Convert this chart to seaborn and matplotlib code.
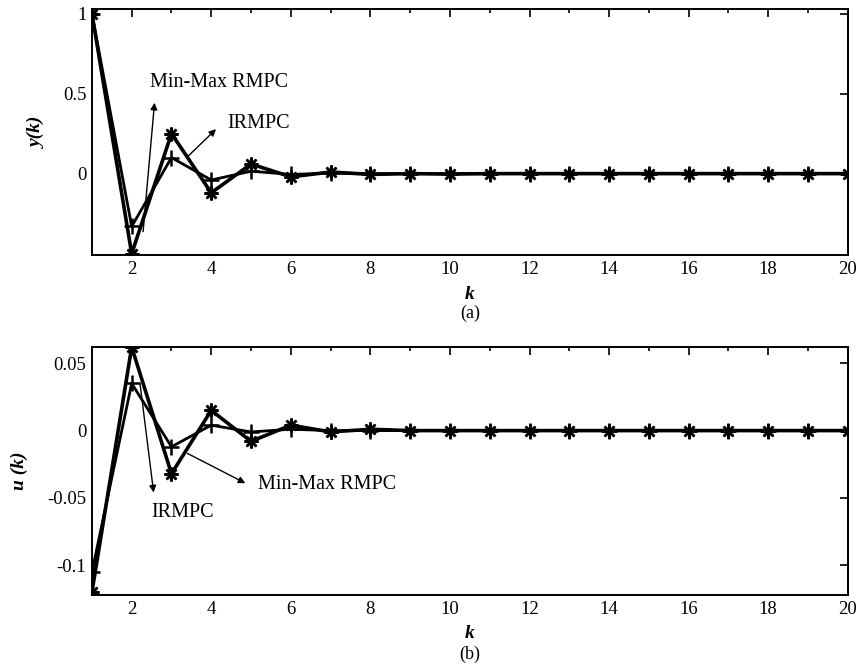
import matplotlib
matplotlib.use('Agg')
import matplotlib.pyplot as plt
import seaborn as sns
import numpy as np
import pandas as pd

# step index
k = list(range(1, 21))

# output y(k)
y_minmax = [1.0, -0.50, 0.25, -0.12, 0.06, -0.02, 0.01, -0.005, 0.0, -0.003,
            0.0, 0.0, 0.0, 0.0, 0.0, 0.0, 0.0, 0.0, 0.0, 0.0]
y_irmpc = [1.0, -0.33, 0.10, -0.04, 0.015, -0.005, 0.003, 0.0, 0.0, 0.0,
           0.0, 0.0, 0.0, 0.0, 0.0, 0.0, 0.0, 0.0, 0.0, 0.0]

# control u(k)
u_minmax = [-0.120, 0.062, -0.032, 0.015, -0.008, 0.004, -0.001, 0.001, 0.0, 0.0,
            0.0, 0.0, 0.0, 0.0, 0.0, 0.0, 0.0, 0.0, 0.0, 0.0]
u_irmpc = [-0.105, 0.035, -0.012, 0.004, -0.001, 0.001, 0.0, 0.0, 0.0, 0.0,
           0.0, 0.0, 0.0, 0.0, 0.0, 0.0, 0.0, 0.0, 0.0, 0.0]

sns.set_style('white')
plt.rcParams['font.family'] = ['Liberation Serif', 'DejaVu Serif']
plt.rcParams['text.color'] = 'black'
plt.rcParams['axes.labelcolor'] = 'black'
plt.rcParams['xtick.color'] = 'black'
plt.rcParams['ytick.color'] = 'black'

fig = plt.figure(figsize=(8.59, 6.70), dpi=100)
ax1 = fig.add_axes([0.107, 0.619, 0.880, 0.368])
ax2 = fig.add_axes([0.107, 0.112, 0.880, 0.370])

df_y = pd.DataFrame({'k': k, 'minmax': y_minmax, 'irmpc': y_irmpc})
df_u = pd.DataFrame({'k': k, 'minmax': u_minmax, 'irmpc': u_irmpc})


def draw(ax, df):
    # asterisk markers like the matlab '*'
    sns.lineplot(data=df, x='k', y='minmax', ax=ax, color='black', lw=2.6,
                 marker=(8, 2, 0), markersize=10, markeredgewidth=1.8,
                 markeredgecolor='black')
    sns.lineplot(data=df, x='k', y='irmpc', ax=ax, color='black', lw=2.0,
                 marker='+', markersize=11, markeredgewidth=1.8,
                 markeredgecolor='black')
    ax.set_xlim(1, 20)
    ax.set_xticks(np.arange(2, 21, 2))
    ax.set_xticks(np.arange(1, 21, 1), minor=True)
    ax.tick_params(axis='both', which='both', direction='in', top=True, right=True,
                   labelsize=13.5, width=1.2, pad=4, colors='black')
    ax.tick_params(which='major', length=6)
    ax.tick_params(which='minor', length=3)
    for s in ax.spines.values():
        s.set_linewidth(1.4)
        s.set_color('black')
    ax.set_xlabel('')


draw(ax1, df_y)
ax1.set_ylim(-0.51, 1.03)
ax1.set_yticks([0, 0.5, 1])
ax1.set_yticklabels(['0', '0.5', '1'])
ax1.set_ylabel('y(k)', fontsize=14, style='italic', fontweight='bold', labelpad=12)
ax1.text(0.5, -0.158, 'k', transform=ax1.transAxes, ha='center', va='center',
         fontsize=14, style='italic', fontweight='bold')
ax1.text(0.5, -0.235, '(a)', transform=ax1.transAxes, ha='center', va='center', fontsize=13)

draw(ax2, df_u)
ax2.set_ylim(-0.122, 0.062)
ax2.set_yticks([-0.1, -0.05, 0, 0.05])
ax2.set_yticklabels(['-0.1', '-0.05', '0', '0.05'])
ax2.set_ylabel('u (k)', fontsize=14, style='italic', fontweight='bold', labelpad=14)
ax2.text(0.5, -0.157, 'k', transform=ax2.transAxes, ha='center', va='center',
         fontsize=14, style='italic', fontweight='bold')
ax2.text(0.5, -0.24, '(b)', transform=ax2.transAxes, ha='center', va='center', fontsize=13)

arrow = dict(arrowstyle='-|>', color='black', lw=1.0, mutation_scale=10)
# top annotations
ax1.annotate('', xy=(2.58, 0.46), xytext=(2.28, -0.38), arrowprops=arrow)
ax1.text(2.46, 0.57, 'Min-Max RMPC', fontsize=14.5, ha='left', va='center')
ax1.annotate('', xy=(4.17, 0.29), xytext=(3.34, 0.09), arrowprops=arrow)
ax1.text(4.4, 0.31, 'IRMPC', fontsize=14.5, ha='left', va='center')
# bottom annotations
ax2.annotate('', xy=(2.56, -0.048), xytext=(2.2, 0.037), arrowprops=arrow)
ax2.text(2.5, -0.061, 'IRMPC', fontsize=14.5, ha='left', va='center')
ax2.annotate('', xy=(4.92, -0.040), xytext=(3.34, -0.016), arrowprops=arrow)
ax2.text(5.17, -0.040, 'Min-Max RMPC', fontsize=14.5, ha='left', va='center')

fig.savefig('out.png', dpi=100)
